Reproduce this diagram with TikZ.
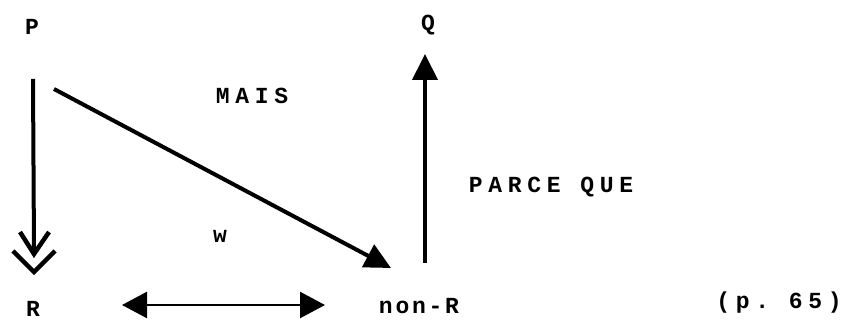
\documentclass[tikz,border=0pt]{standalone}
\usepackage{fontspec}
\setmonofont{Liberation Mono}
\usetikzlibrary{arrows.meta,calc}
\begin{document}
\begin{tikzpicture}[x=1pt,y=1pt,
  lbl/.style={font=\fontsize{23}{23}\selectfont\ttfamily\bfseries\addfontfeature{LetterSpace=25}, inner sep=0pt, anchor=center},
  tri/.style={-{Triangle[length=26pt,width=25pt]}},
  link/.style={line width=4pt},
  chev/.style={line width=4.5pt,line join=miter}]
\useasboundingbox (0,0) rectangle (854,320);
\node[lbl] (P) at (32,293) {P};
\node[lbl] (R) at (33,11) {R};
\node[lbl] (Q) at (428,295) {Q};
\node[lbl,font=\fontsize{23}{23}\selectfont\ttfamily\bfseries\addfontfeature{LetterSpace=12}] (nonR) at (419,14) {non-R};
\node[lbl] (mais) at (252,224) {MAIS};
\node[lbl] (parce) at (551,133) {PARCE QUE};
\node[lbl] (w) at (220,84) {w};
\node[lbl] (page) at (779,17) {(p. 65)};
\coordinate (pd) at (33,241);
\coordinate (rd) at (34,48);
\coordinate (pdiag) at (54,231);
\coordinate (ndiag) at (391,52);
\coordinate (nup) at (425,57);
\coordinate (qup) at (425,266);
\coordinate (hl) at (122,15);
\coordinate (hr) at (325,15);
\draw[link] (pd) -- ($(rd)+(0,20)$);
\draw[chev] ($(rd)+(-21,21)$) -- (rd) -- ($(rd)+(21,21)$);
\draw[chev] ($(rd)+(-14,40)$) -- ($(rd)+(0,18)$) -- ($(rd)+(15,40)$);
\draw[link,tri] (pdiag) -- (ndiag);
\draw[link,tri] (nup) -- (qup);
\draw[line width=2.5pt,{Triangle[length=25pt,width=26pt]}-{Triangle[length=25pt,width=26pt]}] (hl) -- (hr);
\end{tikzpicture}
\end{document}
